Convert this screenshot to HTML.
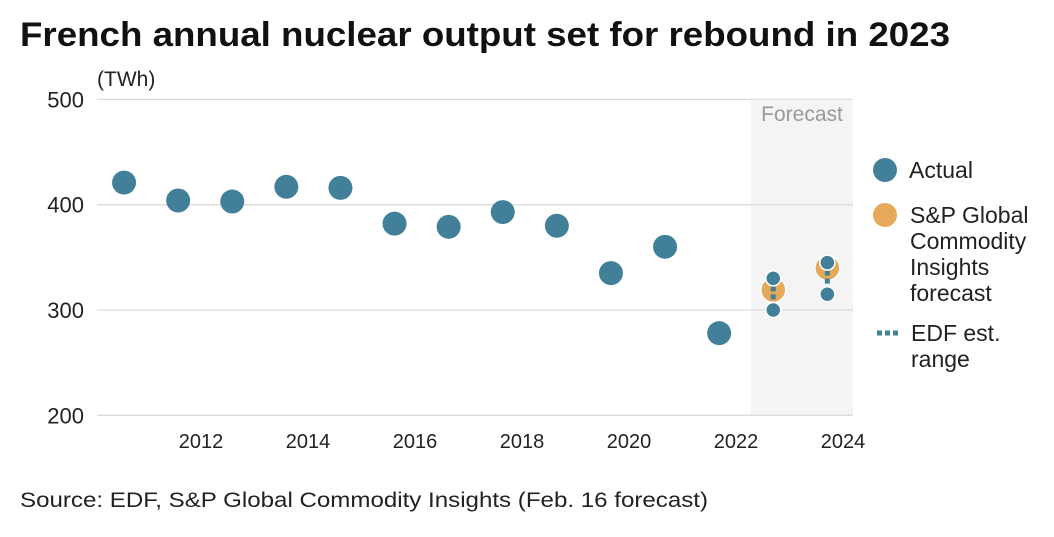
<!DOCTYPE html>
<html><head><meta charset="utf-8"><style>
body{margin:0;width:1054px;height:532px;background:#fff;font-family:"Liberation Sans",sans-serif;overflow:hidden}
text{font-family:"Liberation Sans",sans-serif}
</style></head><body>
<svg width="1054" height="532">
<text x="20" y="46" font-size="34" font-weight="bold" fill="#111" textLength="930" lengthAdjust="spacingAndGlyphs">French annual nuclear output set for rebound in 2023</text>
<text x="97" y="86" font-size="21" fill="#222">(TWh)</text>
<rect x="751" y="99" width="102" height="316" fill="#f4f4f4"/>
<text x="802" y="121" font-size="21" fill="#999" text-anchor="middle">Forecast</text>
<g id="grid"></g>
<g id="marks"></g>
<g>
<circle cx="885" cy="170" r="12" fill="#42809a"/>
<text x="909" y="178" font-size="23" fill="#222">Actual</text>
<circle cx="885" cy="215" r="12" fill="#e6a95a"/>
<text font-size="23" fill="#222"><tspan x="910" y="223">S&amp;P Global</tspan><tspan x="910" y="249">Commodity</tspan><tspan x="910" y="275">Insights</tspan><tspan x="910" y="301">forecast</tspan></text>
<line x1="877" y1="333" x2="901" y2="333" stroke="#42809a" stroke-width="5" stroke-dasharray="5,3"/>
<text font-size="23" fill="#222"><tspan x="911" y="341">EDF est.</tspan><tspan x="911" y="367">range</tspan></text>
</g>
<text x="20" y="507" font-size="21" fill="#222" textLength="688" lengthAdjust="spacingAndGlyphs">Source: EDF, S&amp;P Global Commodity Insights (Feb. 16 forecast)</text>
</svg>
<script>
const years=[2010,2011,2012,2013,2014,2015,2016,2017,2018,2019,2020,2021];
const actual=[421,404,403,417,416,382,379,393,380,335,360,278];
const fcYears=[2022,2023];
const fcValues=[319,340];
const edfLow=[300,315];
const edfHigh=[330,345];
const yTicks=[200,300,400,500];
const xTicks=[2012,2014,2016,2018,2020,2022,2024];
const NS="http://www.w3.org/2000/svg";
const x0=97,bw=54.1;
function xBand(y){return x0+(y-2010)*bw;}
function xc(y){return xBand(y)+bw/2;}
function xTick(t){return 201+(t-2012)*53.5;}
function yv(v){return 415.3-(v-200)*1.053;}
function mk(tag,attrs,parent){const e=document.createElementNS(NS,tag);for(const k in attrs)e.setAttribute(k,attrs[k]);parent.appendChild(e);return e;}
const grid=document.getElementById('grid'),marks=document.getElementById('marks');
yTicks.forEach(t=>{
 const l=mk('line',{x1:x0,x2:853,y1:yv(t),y2:yv(t),stroke:'#dcdcdc','stroke-width':1.3},grid);
 
 
 const tx=mk('text',{x:84,y:yv(t)+8,'font-size':22,fill:'#222','text-anchor':'end'},grid);
 tx.textContent=t;
 
 
});
xTicks.forEach(t=>{
 const tx=mk('text',{x:xTick(t),y:448,'font-size':20,fill:'#222','text-anchor':'middle'},grid);
 tx.textContent=t;
 
 
});
years.forEach((y,i)=>{
 const c=mk('circle',{cx:xc(y),cy:yv(actual[i]),r:12,fill:'#42809a'},marks);
 
 
});
fcYears.forEach((y,i)=>{
 const x=xc(y);
 const o=mk('circle',{cx:x,cy:yv(fcValues[i]),r:12.5,fill:'#e6a95a',stroke:'#fff','stroke-width':1.5},marks);
 
 
 const ln=mk('line',{x1:x,x2:x,y1:yv(edfHigh[i]),y2:yv(edfLow[i]),stroke:'#42809a','stroke-width':5,'stroke-dasharray':'5,3'},marks);
 
 
 [edfHigh[i],edfLow[i]].forEach((v,j)=>{
  const c=mk('circle',{cx:x,cy:yv(v),r:7.5,fill:'#42809a',stroke:'#fff','stroke-width':1.5},marks);
  
  
 });
});
</script>
</body></html>
